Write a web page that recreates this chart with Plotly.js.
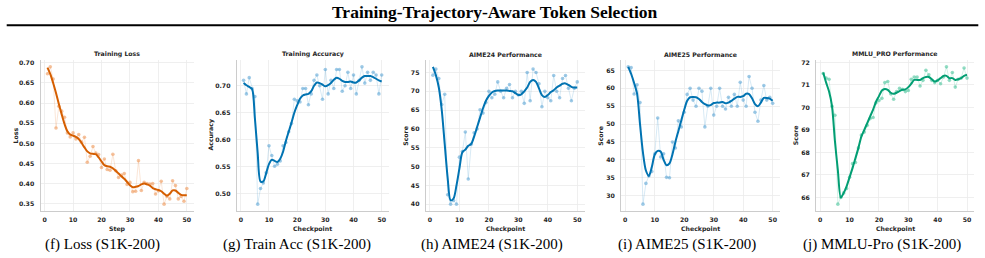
<!DOCTYPE html>
<html>
<head>
<meta charset="utf-8">
<script src="https://cdn.plot.ly/plotly-3.0.1.min.js"></script>
<style>
  html, body { margin: 0; padding: 0; background: #ffffff; }
  #chart { width: 985px; height: 258px; }
</style>
</head>
<body>
<div id="chart"></div>
<script>
// Checkpoint / step index shared by every panel
const steps = [1,2,3,4,5,6,7,8,9,10,11,12,13,14,15,16,17,18,19,20,21,22,23,24,25,
               26,27,28,29,30,31,32,33,34,35,36,37,38,39,40,41,42,43,44,45,46,47,48,49,50];

// Training loss: raw values and smoothed trend
const lossRaw = [0.673,0.690,0.660,0.538,0.592,0.580,0.565,0.526,0.516,0.526,
                 0.511,0.522,0.503,0.515,0.453,0.468,0.492,0.476,0.472,0.440,
                 0.461,0.435,0.433,0.473,0.432,0.415,0.421,0.425,0.398,0.403,
                 0.380,0.381,0.457,0.383,0.403,0.400,0.399,0.400,0.374,0.382,
                 0.406,0.349,0.368,0.362,0.407,0.395,0.362,0.368,0.356,0.388];
const lossSmooth = [0.688,0.672,0.650,0.625,0.598,0.572,0.548,0.530,0.522,0.519,
                    0.516,0.511,0.501,0.490,0.480,0.475,0.474,0.473,0.465,0.455,
                    0.446,0.443,0.442,0.438,0.432,0.425,0.418,0.412,0.404,0.396,
                    0.391,0.392,0.394,0.398,0.400,0.398,0.395,0.389,0.386,0.384,
                    0.381,0.375,0.370,0.375,0.383,0.383,0.377,0.372,0.371,0.371];

// Training accuracy
const accRaw = [0.710,0.685,0.715,0.695,0.680,0.481,0.510,0.520,0.539,0.589,
                0.571,0.551,0.555,0.561,0.589,0.595,0.615,0.630,0.675,0.672,
                0.670,0.695,0.695,0.665,0.685,0.710,0.720,0.700,0.675,0.730,
                0.685,0.710,0.695,0.730,0.730,0.690,0.700,0.725,0.695,0.720,
                0.685,0.710,0.735,0.705,0.725,0.710,0.725,0.720,0.685,0.720];
const accSmooth = [0.705,0.701,0.698,0.694,0.640,0.575,0.523,0.523,0.538,0.555,
                   0.563,0.561,0.559,0.565,0.578,0.598,0.615,0.632,0.650,0.664,
                   0.676,0.682,0.684,0.685,0.690,0.700,0.706,0.705,0.702,0.699,
                   0.701,0.705,0.711,0.715,0.713,0.709,0.707,0.707,0.708,0.706,
                   0.706,0.710,0.715,0.718,0.718,0.718,0.716,0.713,0.710,0.708];

// AIME24 score
const aime24Raw = [74.3,75.9,73.4,66.5,69.2,42.5,40.0,41.0,40.0,52.5,
                   54.0,59.2,46.7,55.9,59.0,60.0,65.1,64.2,67.0,70.0,
                   68.3,69.2,72.5,70.0,68.3,70.8,71.8,68.3,70.0,69.0,
                   70.0,66.8,75.0,67.5,75.9,75.0,72.0,65.9,70.0,68.3,
                   67.5,74.2,70.0,68.3,73.4,74.2,70.8,67.5,70.8,72.5];
const aime24Smooth = [76.5,74.3,71.0,65.0,56.0,47.0,41.0,41.5,45.0,49.5,
                      53.8,54.5,55.5,56.0,58.0,60.5,63.0,65.5,67.5,68.8,
                      69.7,70.1,70.2,70.2,70.2,70.2,70.1,70.0,69.5,69.0,
                      69.2,70.0,71.0,72.5,73.0,72.5,70.8,69.0,68.5,69.0,
                      69.8,70.3,71.0,71.5,72.0,72.1,71.7,71.2,71.0,71.0];

// AIME25 score
const aime25Raw = [66.0,65.8,58.4,61.0,56.0,27.6,33.4,35.5,36.7,41.7,
                   51.7,40.8,41.7,35.1,35.0,45.0,43.3,50.9,49.2,53.3,
                   58.3,60.0,56.7,55.0,60.0,59.2,49.2,55.0,60.0,52.5,
                   55.0,60.0,55.0,54.2,57.5,55.0,58.3,55.0,61.7,56.7,
                   55.0,63.3,60.0,53.3,50.8,56.7,60.8,56.7,57.5,55.8];
const aime25Smooth = [66.0,64.0,61.5,58.5,50.0,42.0,37.0,35.5,38.0,41.5,
                      42.5,42.3,40.0,38.5,39.0,41.5,45.0,48.0,51.0,54.0,
                      56.5,57.5,57.6,57.5,57.0,56.2,55.6,55.2,55.3,55.9,
                      56.0,56.0,56.2,55.8,56.0,56.5,57.1,57.6,57.6,57.8,
                      58.5,58.4,57.2,55.6,55.0,56.0,57.3,57.3,57.1,56.5];

// MMLU-Pro score
const mmluRaw = [71.50,71.30,71.25,70.05,69.65,65.70,66.00,66.20,66.39,66.90,
                 67.50,67.55,68.20,68.77,68.90,69.20,69.50,69.55,70.20,70.30,
                 70.40,71.10,71.15,70.60,70.36,70.70,70.85,70.80,70.70,70.75,
                 71.25,71.35,71.35,70.95,71.20,71.65,71.45,71.20,71.10,71.20,
                 71.05,71.35,71.80,71.20,71.55,70.90,71.25,71.30,71.75,71.30];
const mmluSmooth = [71.55,71.10,70.70,70.05,68.50,67.20,66.00,66.20,66.50,66.90,
                    67.30,67.75,68.20,68.70,69.00,69.30,69.60,69.90,70.25,70.50,
                    70.75,70.82,70.78,70.65,70.60,70.65,70.72,70.78,70.80,70.90,
                    71.05,71.22,71.22,71.22,71.30,71.35,71.35,71.25,71.15,71.20,
                    71.30,71.40,71.40,71.30,71.30,71.22,71.25,71.30,71.40,71.45];

// Panel labels
const panelTitles = ['Training Loss','Training Accuracy','AIME24 Performance','AIME25 Performance','MMLU_PRO Performance'];
const yTitles = ['Loss','Accuracy','Score','Score','Score'];
const xTitles = ['Step','Checkpoint','Checkpoint','Checkpoint','Checkpoint'];
const captions = ['(f) Loss (S1K-200)','(g) Train Acc (S1K-200)','(h) AIME24 (S1K-200)','(i) AIME25 (S1K-200)','(j) MMLU-Pro (S1K-200)'];

// Panel styling and geometry (pixels in a 985 x 258 canvas)
const W = 985, H = 258;
const panels = [
  {raw: lossRaw,   smooth: lossSmooth,   color: '#d55e00', rawColor: '#ee9a5c', dtick: 0.05, fmt: '.2f', left: 40.5,  right: 193.8, ytx: 15,    cap: 102},
  {raw: accRaw,    smooth: accSmooth,    color: '#0173b2', rawColor: '#5fa7d6', dtick: 0.05, fmt: '.2f', left: 236.7, right: 388.6, ytx: 210,   cap: 297},
  {raw: aime24Raw, smooth: aime24Smooth, color: '#0173b2', rawColor: '#5fa7d6', dtick: 5,    fmt: '',    left: 425.7, right: 584.5, ytx: 405.3, cap: 492},
  {raw: aime25Raw, smooth: aime25Smooth, color: '#0173b2', rawColor: '#5fa7d6', dtick: 5,    fmt: '',    left: 621.0, right: 779.9, ytx: 600.3, cap: 687},
  {raw: mmluRaw,   smooth: mmluSmooth,   color: '#029e73', rawColor: '#4cc49c', dtick: 1,    fmt: '',    left: 816.0, right: 974.2, ytx: 795.7, cap: 882}
];
const plotTop = 60, plotBottom = 211;
const yDomain = [1 - plotBottom / H, 1 - plotTop / H];

const tickFont = {family: 'DejaVu Sans', size: 6.2, color: '#262626', weight: 'bold'};
const labelFont = {family: 'DejaVu Sans', size: 6.2, color: '#262626', weight: 'bold'};

const data = [];
const annotations = [];
const layout = {
  width: W, height: H,
  margin: {l: 0, r: 0, t: 0, b: 0},
  paper_bgcolor: '#ffffff',
  plot_bgcolor: '#ffffff',
  showlegend: false,
  shapes: [{
    type: 'line', xref: 'paper', yref: 'paper',
    x0: 6.7 / W, x1: 1 - 6.7 / W, y0: 1 - 25.3 / H, y1: 1 - 25.3 / H,
    line: {color: '#000000', width: 2}
  }],
  annotations: annotations
};

// Main heading
annotations.push({
  text: '<b>Training-Trajectory-Aware Token Selection</b>',
  xref: 'paper', yref: 'paper', x: 494.5 / W, y: 1 - 12.5 / H,
  xanchor: 'center', yanchor: 'middle', showarrow: false,
  font: {family: 'Liberation Serif', size: 17.5, color: '#000000'}
});

panels.forEach((p, i) => {
  const n = i + 1;
  const xa = 'x' + (n === 1 ? '' : n);
  const ya = 'y' + (n === 1 ? '' : n);

  // Noisy per-checkpoint values
  data.push({
    x: steps, y: p.raw, xaxis: xa, yaxis: ya, type: 'scatter', mode: 'lines',
    line: {color: p.rawColor, width: 0.7}, opacity: 0.35, hoverinfo: 'skip'
  });
  data.push({
    x: steps, y: p.raw, xaxis: xa, yaxis: ya, type: 'scatter', mode: 'markers',
    marker: {color: p.rawColor, size: 3.6, opacity: 0.6, line: {width: 0}}
  });
  // Smoothed trend
  data.push({
    x: steps, y: p.smooth, xaxis: xa, yaxis: ya, type: 'scatter', mode: 'lines',
    line: {color: p.color, width: 2, shape: 'spline', smoothing: 0.8}
  });

  // Autoscale with a 5% pad, like the default data margins
  const all = p.raw.concat(p.smooth);
  const lo = Math.min(...all), hi = Math.max(...all);
  const pad = (hi - lo) * 0.05;
  const xlo = Math.min(...steps), xhi = Math.max(...steps);
  const xpad = (xhi - xlo) * 0.05;

  const xDomain = [p.left / W, p.right / W];
  layout['xaxis' + (n === 1 ? '' : n)] = {
    domain: xDomain, anchor: ya, range: [xlo - xpad, xhi + xpad],
    tickmode: 'linear', tick0: 0, dtick: 10, ticks: '',
    showgrid: true, gridcolor: '#ebebeb', gridwidth: 0.8, zeroline: false,
    showline: true, linecolor: '#cccccc', linewidth: 1,
    tickfont: tickFont, ticklabelstandoff: 3
  };
  layout['yaxis' + (n === 1 ? '' : n)] = {
    domain: yDomain, anchor: xa, range: [lo - pad, hi + pad],
    tickmode: 'linear', tick0: 0, dtick: p.dtick, tickformat: p.fmt, ticks: '',
    showgrid: true, gridcolor: '#ebebeb', gridwidth: 0.8, zeroline: false,
    showline: true, linecolor: '#cccccc', linewidth: 1,
    tickfont: tickFont, ticklabelstandoff: 4
  };

  const cx = (p.left + p.right) / 2 / W;
  annotations.push({
    text: panelTitles[i], xref: 'paper', yref: 'paper', x: cx, y: 1 - 54 / H,
    xanchor: 'center', yanchor: 'middle', showarrow: false, font: labelFont
  });
  annotations.push({
    text: xTitles[i], xref: 'paper', yref: 'paper', x: cx, y: 1 - 228.7 / H,
    xanchor: 'center', yanchor: 'middle', showarrow: false, font: labelFont
  });
  annotations.push({
    text: yTitles[i], xref: 'paper', yref: 'paper', x: p.ytx / W, y: 1 - (plotTop + plotBottom) / 2 / H,
    xanchor: 'center', yanchor: 'middle', textangle: -90, showarrow: false, font: labelFont
  });
  annotations.push({
    text: captions[i], xref: 'paper', yref: 'paper', x: p.cap / W, y: 1 - 244.3 / H,
    xanchor: 'center', yanchor: 'middle', showarrow: false,
    font: {family: 'Liberation Serif', size: 15, color: '#000000'}
  });
});

Plotly.newPlot('chart', data, layout, {staticPlot: true, displayModeBar: false});
</script>
</body>
</html>
